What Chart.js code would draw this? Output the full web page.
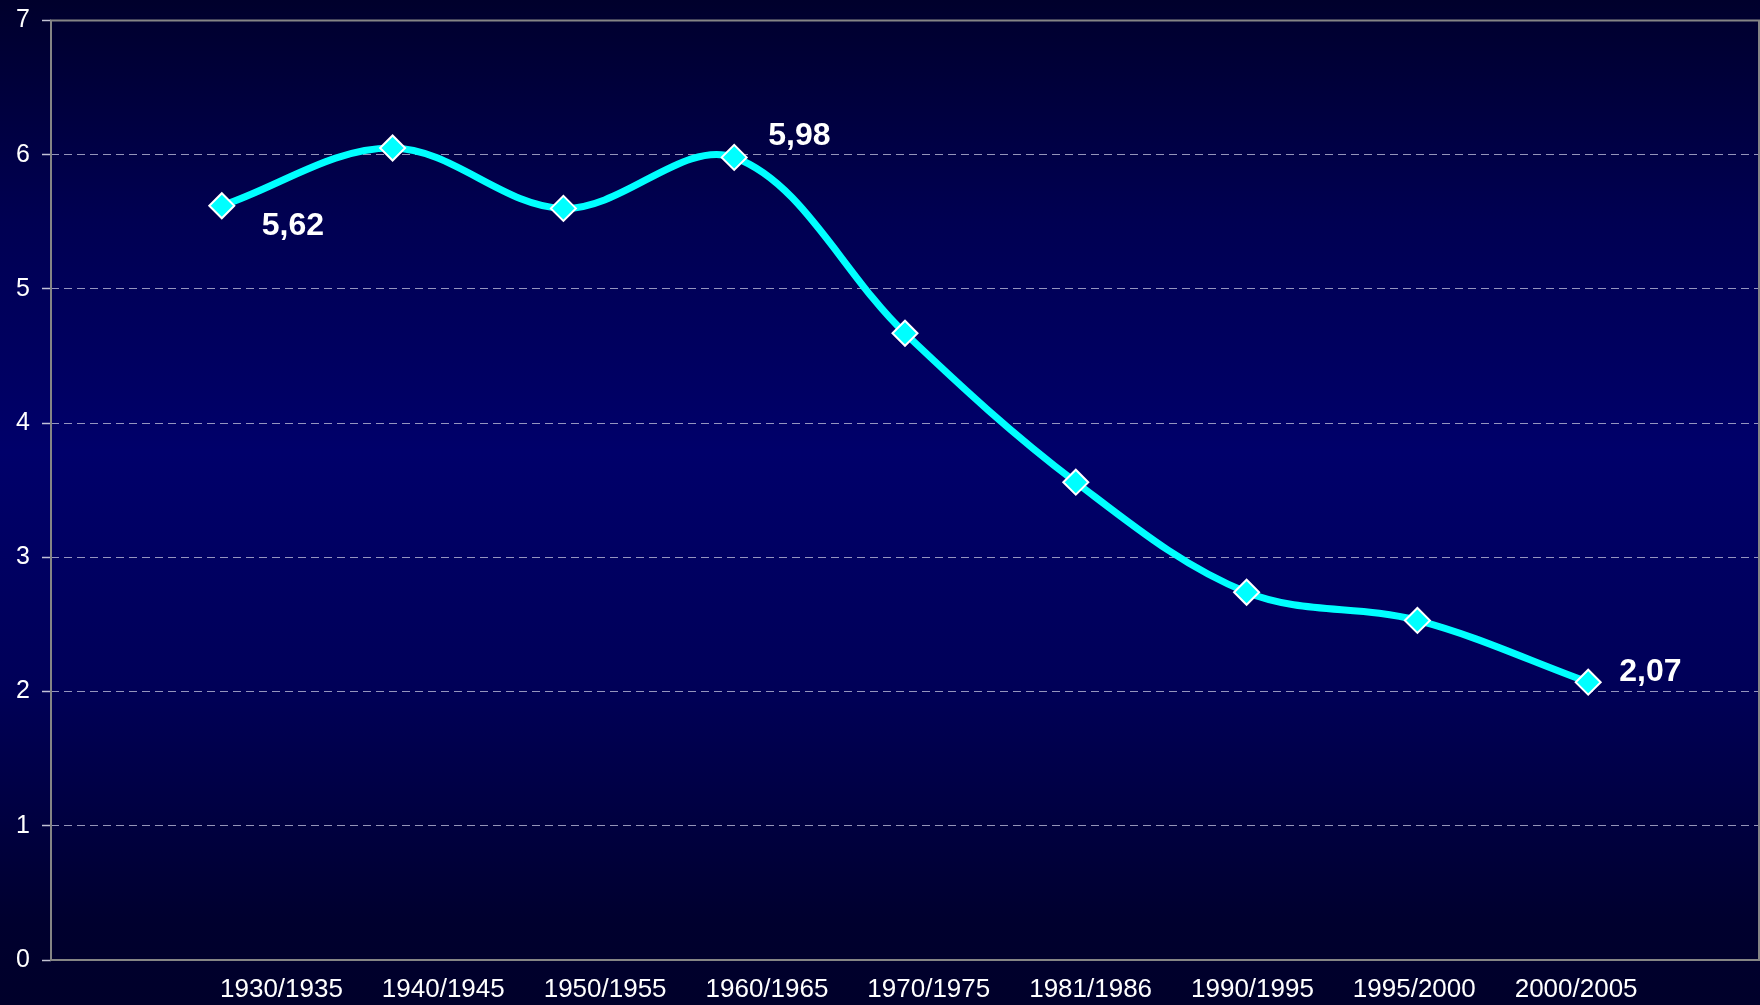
<!DOCTYPE html>
<html>
<head>
<meta charset="utf-8">
<script src="https://cdn.jsdelivr.net/npm/chart.js@4/dist/chart.umd.min.js"></script>
<style>
  html, body { margin: 0; padding: 0; }
  body {
    width: 1760px; height: 1005px; overflow: hidden;
    background: linear-gradient(to bottom, #00002c 0%, #000052 22%, #00006a 45%, #000058 68%, #00002e 92%, #00002a 100%);
  }
  #wrap { position: relative; width: 1760px; height: 1005px; }
</style>
</head>
<body>
<div id="wrap"><canvas id="c" width="1760" height="1005"></canvas></div>
<script>
const categories = ['1930/1935', '1940/1945', '1950/1955', '1960/1965', '1970/1975', '1981/1986', '1990/1995', '1995/2000', '2000/2005'];
const values = [5.62, 6.05, 5.60, 5.98, 4.67, 3.56, 2.74, 2.53, 2.07];
const yTicks = [0, 1, 2, 3, 4, 5, 6, 7];
const labelledIndices = [0, 3, 8];

const FONT = '"Liberation Sans", Arial, Helvetica, sans-serif';

const framePlugin = {
  id: 'frame',
  beforeDatasetsDraw(chart) {
    const a = chart.chartArea, ctx = chart.ctx;
    ctx.save();
    ctx.strokeStyle = '#858585';
    ctx.lineWidth = 2;
    ctx.strokeRect(a.left, a.top, a.right - a.left, a.bottom - a.top);
    ctx.restore();
  }
};

const valueLabels = {
  id: 'valueLabels',
  afterDatasetsDraw(chart, args, opts) {
    const meta = chart.getDatasetMeta(0);
    const ctx = chart.ctx;
    ctx.save();
    ctx.font = 'bold 32px ' + FONT;
    ctx.fillStyle = '#ffffff';
    ctx.textAlign = 'left';
    ctx.textBaseline = 'middle';
    labelledIndices.forEach((idx, k) => {
      const pt = meta.data[idx];
      const off = opts.offsets[k];
      const txt = values[idx].toFixed(2).replace('.', ',');
      ctx.fillText(txt, pt.x + off[0], pt.y + off[1]);
    });
    ctx.restore();
  }
};

new Chart(document.getElementById('c'), {
  type: 'line',
  data: {
    datasets: [{
      data: values.map((v, i) => ({ x: i + 1, y: v })),
      borderColor: '#00ffff',
      borderWidth: 7,
      tension: 0.35,
      fill: false,
      pointStyle: 'rectRot',
      pointRadius: 12.5,
      pointHoverRadius: 12.5,
      pointBackgroundColor: '#00ffff',
      pointBorderColor: '#ffffff',
      pointBorderWidth: 2,
      xAxisID: 'x',
      yAxisID: 'y'
    }]
  },
  options: {
    responsive: false,
    animation: false,
    events: [],
    layout: { autoPadding: false, padding: { top: 20.5, right: 1, left: 0, bottom: 0 } },
    plugins: {
      legend: { display: false },
      tooltip: { enabled: false },
      valueLabels: { offsets: [[40, 20], [34, -21], [31, -10]] }
    },
    scales: {
      x: {
        type: 'linear',
        min: 0,
        max: 10,
        display: false
      },
      xl: {
        type: 'linear',
        position: 'bottom',
        min: -1.424,
        max: 9.13,
        afterBuildTicks: (axis) => { axis.ticks = categories.map((c, i) => ({ value: i })); },
        afterFit: (axis) => { axis.height = 45; },
        grid: { display: false, drawTicks: false },
        border: { display: false },
        ticks: {
          autoSkip: false,
          maxRotation: 0,
          padding: 14.5,
          color: '#ffffff',
          font: { family: FONT, size: 26 },
          callback: (v) => categories[v] !== undefined ? categories[v] : ''
        }
      },
      y: {
        type: 'linear',
        min: 0,
        max: 7,
        afterBuildTicks: (axis) => { axis.ticks = yTicks.map(v => ({ value: v })); },
        afterFit: (axis) => { axis.width = 51; },
        grid: {
          color: (c) => (c.tick && (c.tick.value === 0 || c.tick.value === 7)) ? 'rgba(0,0,0,0)' : 'rgba(185,185,215,0.8)',
          lineWidth: 1,
          tickLength: 9,
          tickColor: 'rgba(215,215,230,0.9)',
          tickWidth: 1.5
        },
        border: { display: false, dash: [8, 5] },
        ticks: {
          padding: 12,
          color: '#ffffff',
          font: { family: FONT, size: 25, lineHeight: 0.6 },
          callback: (v) => String(v)
        }
      }
    }
  },
  plugins: [framePlugin, valueLabels]
});
</script>
</body>
</html>
